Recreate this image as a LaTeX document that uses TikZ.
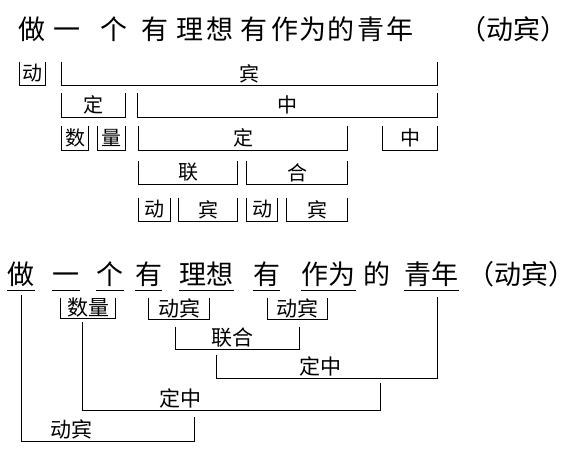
\documentclass[tikz,border=0pt]{standalone}
\usepackage{fontspec}
\newfontfamily\cjk{Noto Sans CJK SC}

\begin{document}
\begin{tikzpicture}[x=1pt,y=-1pt,line width=0.9pt,
    word/.style={font=\cjk\fontsize{27}{27}\selectfont,inner sep=0pt,anchor=base},
    part node/.style={font=\cjk\fontsize{20}{20}\selectfont,inner sep=0pt,minimum height=23pt},
    box node/.style={font=\cjk\fontsize{21}{21}\selectfont,inner sep=0pt,minimum height=20pt},
    tag node/.style={font=\cjk\fontsize{21}{21}\selectfont,inner sep=1pt,anchor=south}]
    \useasboundingbox (0,0) rectangle (567,451);

    % first analysis: the sentence
    \node[word] (t1) at (32,39) {做};
    \node[word] (t2) at (67,39) {一};
    \node[word] (t3) at (114,39) {个};
    \node[word] (t4) at (155,39) {有};
    \node[word] (t5) at (190,39) {理};
    \node[word] (t6) at (220,39) {想};
    \node[word] (t7) at (254,39) {有};
    \node[word] (t8) at (285,39) {作};
    \node[word] (t9) at (313,39) {为};
    \node[word] (t10) at (341,39) {的};
    \node[word] (t11) at (371,39) {青};
    \node[word] (t12) at (400,39) {年};
    \node[word,anchor=base west] (t13) at (459.5,39) {（动宾）\kern-12pt};

    % first analysis: the layers
    \node[part node,minimum width=25pt] (d1) at (32.5,73.5) {动};
    \node[part node,minimum width=375pt] (b1) at (249.5,73.5) {宾};
    \node[part node,minimum width=63pt] (dg1) at (93.5,105) {定};
    \node[part node,minimum width=299pt] (zh1) at (287.5,105) {中};
    \node[part node,minimum width=26pt] (sh) at (75,138) {数};
    \node[part node,minimum width=27pt] (lg) at (111.5,138) {量};
    \node[part node,minimum width=208pt] (dg2) at (243,138) {定};
    \node[part node,minimum width=54pt] (zh2) at (410,138) {中};
    \node[part node,minimum width=98pt] (lian) at (188,172.5) {联};
    \node[part node,minimum width=100pt] (he) at (297,172.5) {合};
    \node[part node,minimum width=31pt] (d2) at (154.5,209.5) {动};
    \node[part node,minimum width=58pt] (b2) at (208,209.5) {宾};
    \node[part node,minimum width=30pt] (d3) at (262,209.5) {动};
    \node[part node,minimum width=60pt] (b3) at (317,209.5) {宾};

    % second analysis: the sentence
    \node[word] (w1) at (21,284) {做};
    \node[word] (w2) at (66,284) {一};
    \node[word] (w3) at (110,284) {个};
    \node[word] (w4) at (148.5,284) {有};
    \node[word] (w5) at (206.5,284) {理想};
    \node[word] (w6) at (266.5,284) {有};
    \node[word] (w7) at (328.5,284) {作为};
    \node[word] (w8) at (376.5,284) {的};
    \node[word] (w9) at (431.5,284) {青年};
    \node[word,anchor=base west] (w10) at (467.5,284) {（动宾）\kern-12pt};

    % second analysis: the layers
    \node[box node,minimum width=54pt] (sl) at (88,308) {数量};
    \node[box node,minimum width=60pt] (vo1) at (179,308.5) {动宾};
    \node[box node,minimum width=59pt] (vo2) at (297.5,308.5) {动宾};
    \node[tag node] (lh) at (232,349) {联合};
    \node[tag node] (dz1) at (320,378) {定中};
    \node[tag node] (dz2) at (180,410) {定中};
    \node[tag node] (db) at (71,441) {动宾};

    \foreach \n in {d1,b1,dg1,zh1,sh,lg,dg2,zh2,lian,he,d2,b2,d3,b3,sl,vo1,vo2}
        \draw (\n.north west) |- (\n.south east) -- (\n.north east);
    \foreach \n in {w1,w2,w3,w4,w5,w6,w7,w9}
        \draw ([yshift=-6pt]\n.base west) -- ([yshift=-6pt]\n.base east);

    \draw ([xshift=-4pt,yshift=-8pt]vo1.south) |- (lh.south) -| ([xshift=1.5pt,yshift=-8pt]vo2.south);
    \draw ([xshift=-16pt,yshift=-6pt]lh.south) |- (dz1.south) -| ([xshift=5.5pt,yshift=-13pt]w9.base);
    \draw ([xshift=-6pt,yshift=-4pt]sl.south) |- (dz2.south) -| ([xshift=60pt,yshift=-5pt]dz1.south);
    \draw ([yshift=-11pt]w1.base) |- (db.south) -| ([xshift=123pt,yshift=-7pt]db.south |- dz2.south);
\end{tikzpicture}
\end{document}
